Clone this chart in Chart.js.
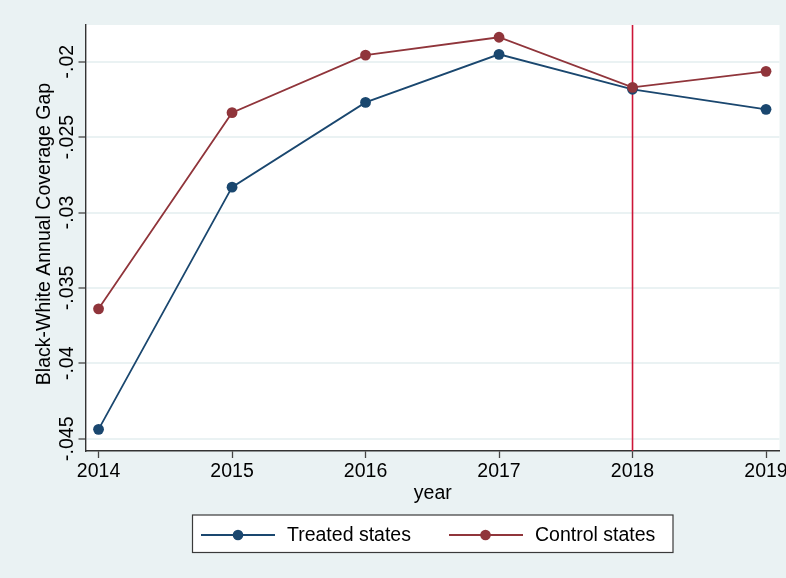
<!DOCTYPE html>
<html>
<head>
<meta charset="utf-8">
<script src="https://cdn.jsdelivr.net/npm/chart.js@4/dist/chart.umd.min.js"></script>
<style>
  html, body { margin: 0; padding: 0; background: #eaf2f3; }
  #wrap { width: 786px; height: 578px; }
</style>
</head>
<body>
<div id="wrap"><canvas id="c" width="786" height="578"></canvas></div>
<script>
// Black-white annual coverage gap by year, treated vs control states
const years = [2014, 2015, 2016, 2017, 2018, 2019];
const treatedGap = [-0.04438, -0.02832, -0.02270, -0.01951, -0.02183, -0.02316];
const controlGap = [-0.03639, -0.02338, -0.01956, -0.01838, -0.02170, -0.02064];
const yTickValues = [-0.045, -0.04, -0.035, -0.03, -0.025, -0.02];
const yTickLabels = ['-.045', '-.04', '-.035', '-.03', '-.025', '-.02'];
const policyYear = 2018;

const seriesNames = ['Treated states', 'Control states'];
const navy = '#1a476f';
const maroon = '#90353b';
const FONT = '"Liberation Sans", Arial, Helvetica, sans-serif';

const toPoints = vals => years.map((yr, i) => ({ x: yr, y: vals[i] }));

// Light panel background plus white plot region
const backgroundPlugin = {
  id: 'panels',
  beforeDraw(chart) {
    const { ctx, chartArea: a } = chart;
    ctx.save();
    ctx.fillStyle = '#eaf2f3';
    ctx.fillRect(0, 0, chart.width, chart.height);
    ctx.fillStyle = '#ffffff';
    ctx.fillRect(a.left, a.top, a.right - a.left, a.bottom - a.top);
    ctx.restore();
  }
};

// Vertical reference line at the policy year, behind the series
const refLinePlugin = {
  id: 'refLine',
  beforeDatasetsDraw(chart) {
    const { ctx, chartArea: a, scales } = chart;
    const x = scales.x.getPixelForValue(policyYear);
    ctx.save();
    ctx.strokeStyle = '#cc1638';
    ctx.lineWidth = 1.6;
    ctx.beginPath();
    ctx.moveTo(x, a.top);
    ctx.lineTo(x, a.bottom);
    ctx.stroke();
    ctx.restore();
  }
};

// Rotated y tick labels, axis titles and the framed legend
const textPlugin = {
  id: 'texts',
  afterDraw(chart) {
    const { ctx, chartArea: a, scales } = chart;
    ctx.save();
    ctx.fillStyle = '#000';
    ctx.font = '19.5px ' + FONT;
    ctx.textAlign = 'center';
    ctx.textBaseline = 'alphabetic';
    yTickValues.forEach((v, i) => {
      const py = scales.y.getPixelForValue(v);
      ctx.save();
      ctx.translate(73, py);
      ctx.rotate(-Math.PI / 2);
      ctx.fillText(yTickLabels[i], 0, 0);
      ctx.restore();
    });

    // y axis title
    ctx.save();
    ctx.translate(50, (a.top + a.bottom) / 2 - 4);
    ctx.rotate(-Math.PI / 2);
    ctx.fillText('Black-White Annual Coverage Gap', 0, 0);
    ctx.restore();

    // x axis title
    ctx.fillText('year', (a.left + a.right) / 2, 499);

    // legend
    const box = { x: 192.5, y: 515, w: 480.5, h: 37.5 };
    ctx.fillStyle = '#fff';
    ctx.fillRect(box.x, box.y, box.w, box.h);
    ctx.strokeStyle = '#3a3a3a';
    ctx.lineWidth = 1.2;
    ctx.strokeRect(box.x, box.y, box.w, box.h);
    const cy = 535;
    const items = [
      { x0: 201, x1: 275, mx: 238, tx: 287, color: navy, label: seriesNames[0] },
      { x0: 449, x1: 523, mx: 485.5, tx: 535, color: maroon, label: seriesNames[1] }
    ];
    items.forEach(it => {
      ctx.strokeStyle = it.color;
      ctx.lineWidth = 1.8;
      ctx.beginPath();
      ctx.moveTo(it.x0, cy);
      ctx.lineTo(it.x1, cy);
      ctx.stroke();
      ctx.fillStyle = it.color;
      ctx.beginPath();
      ctx.arc(it.mx, cy, 5.3, 0, Math.PI * 2);
      ctx.fill();
      ctx.fillStyle = '#000';
      ctx.textAlign = 'left';
      ctx.textBaseline = 'middle';
      ctx.fillText(it.label, it.tx, cy + 1);
    });
    ctx.restore();
  }
};

new Chart(document.getElementById('c'), {
  type: 'line',
  data: {
    datasets: [
      {
        label: seriesNames[0],
        data: toPoints(treatedGap),
        borderColor: navy,
        backgroundColor: navy,
        pointBackgroundColor: navy,
        pointBorderWidth: 0,
        pointRadius: 5.4,
        borderWidth: 1.8,
        tension: 0,
        order: 1
      },
      {
        label: seriesNames[1],
        data: toPoints(controlGap),
        borderColor: maroon,
        backgroundColor: maroon,
        pointBackgroundColor: maroon,
        pointBorderWidth: 0,
        pointRadius: 5.4,
        borderWidth: 1.8,
        tension: 0,
        order: 0
      }
    ]
  },
  options: {
    responsive: false,
    animation: false,
    devicePixelRatio: 1,
    layout: { padding: { top: 25, right: 6.5, left: 0, bottom: 0 } },
    plugins: {
      legend: { display: false },
      tooltip: { enabled: false }
    },
    scales: {
      x: {
        type: 'linear',
        min: 2013.906,
        max: 2019.101,
        afterFit(scale) {
          scale.height = 127;
          scale.paddingLeft = 0;
          scale.paddingRight = 0;
        },
        afterBuildTicks(scale) { scale.ticks = years.map(v => ({ value: v })); },
        ticks: {
          color: '#000',
          font: { family: FONT, size: 19.5 },
          padding: 2,
          maxRotation: 0,
          autoSkip: false,
          callback: v => String(v)
        },
        grid: {
          drawOnChartArea: false,
          drawTicks: true,
          tickLength: 7,
          tickColor: '#444',
          tickWidth: 1.3
        },
        border: { display: true, color: '#333', width: 1.4 }
      },
      y: {
        type: 'linear',
        min: -0.045816,
        max: -0.017566,
        afterFit(scale) {
          scale.width = 86;
          scale.paddingTop = 0;
          scale.paddingBottom = 0;
        },
        afterBuildTicks(scale) { scale.ticks = yTickValues.map(v => ({ value: v })); },
        ticks: { display: false },
        grid: {
          color: '#eaf2f3',
          lineWidth: 2,
          drawTicks: true,
          tickLength: 7.5,
          tickColor: '#444',
          tickWidth: 1.3
        },
        border: { display: true, color: '#333', width: 1.4 }
      }
    }
  },
  plugins: [backgroundPlugin, refLinePlugin, textPlugin]
});
</script>
</body>
</html>
